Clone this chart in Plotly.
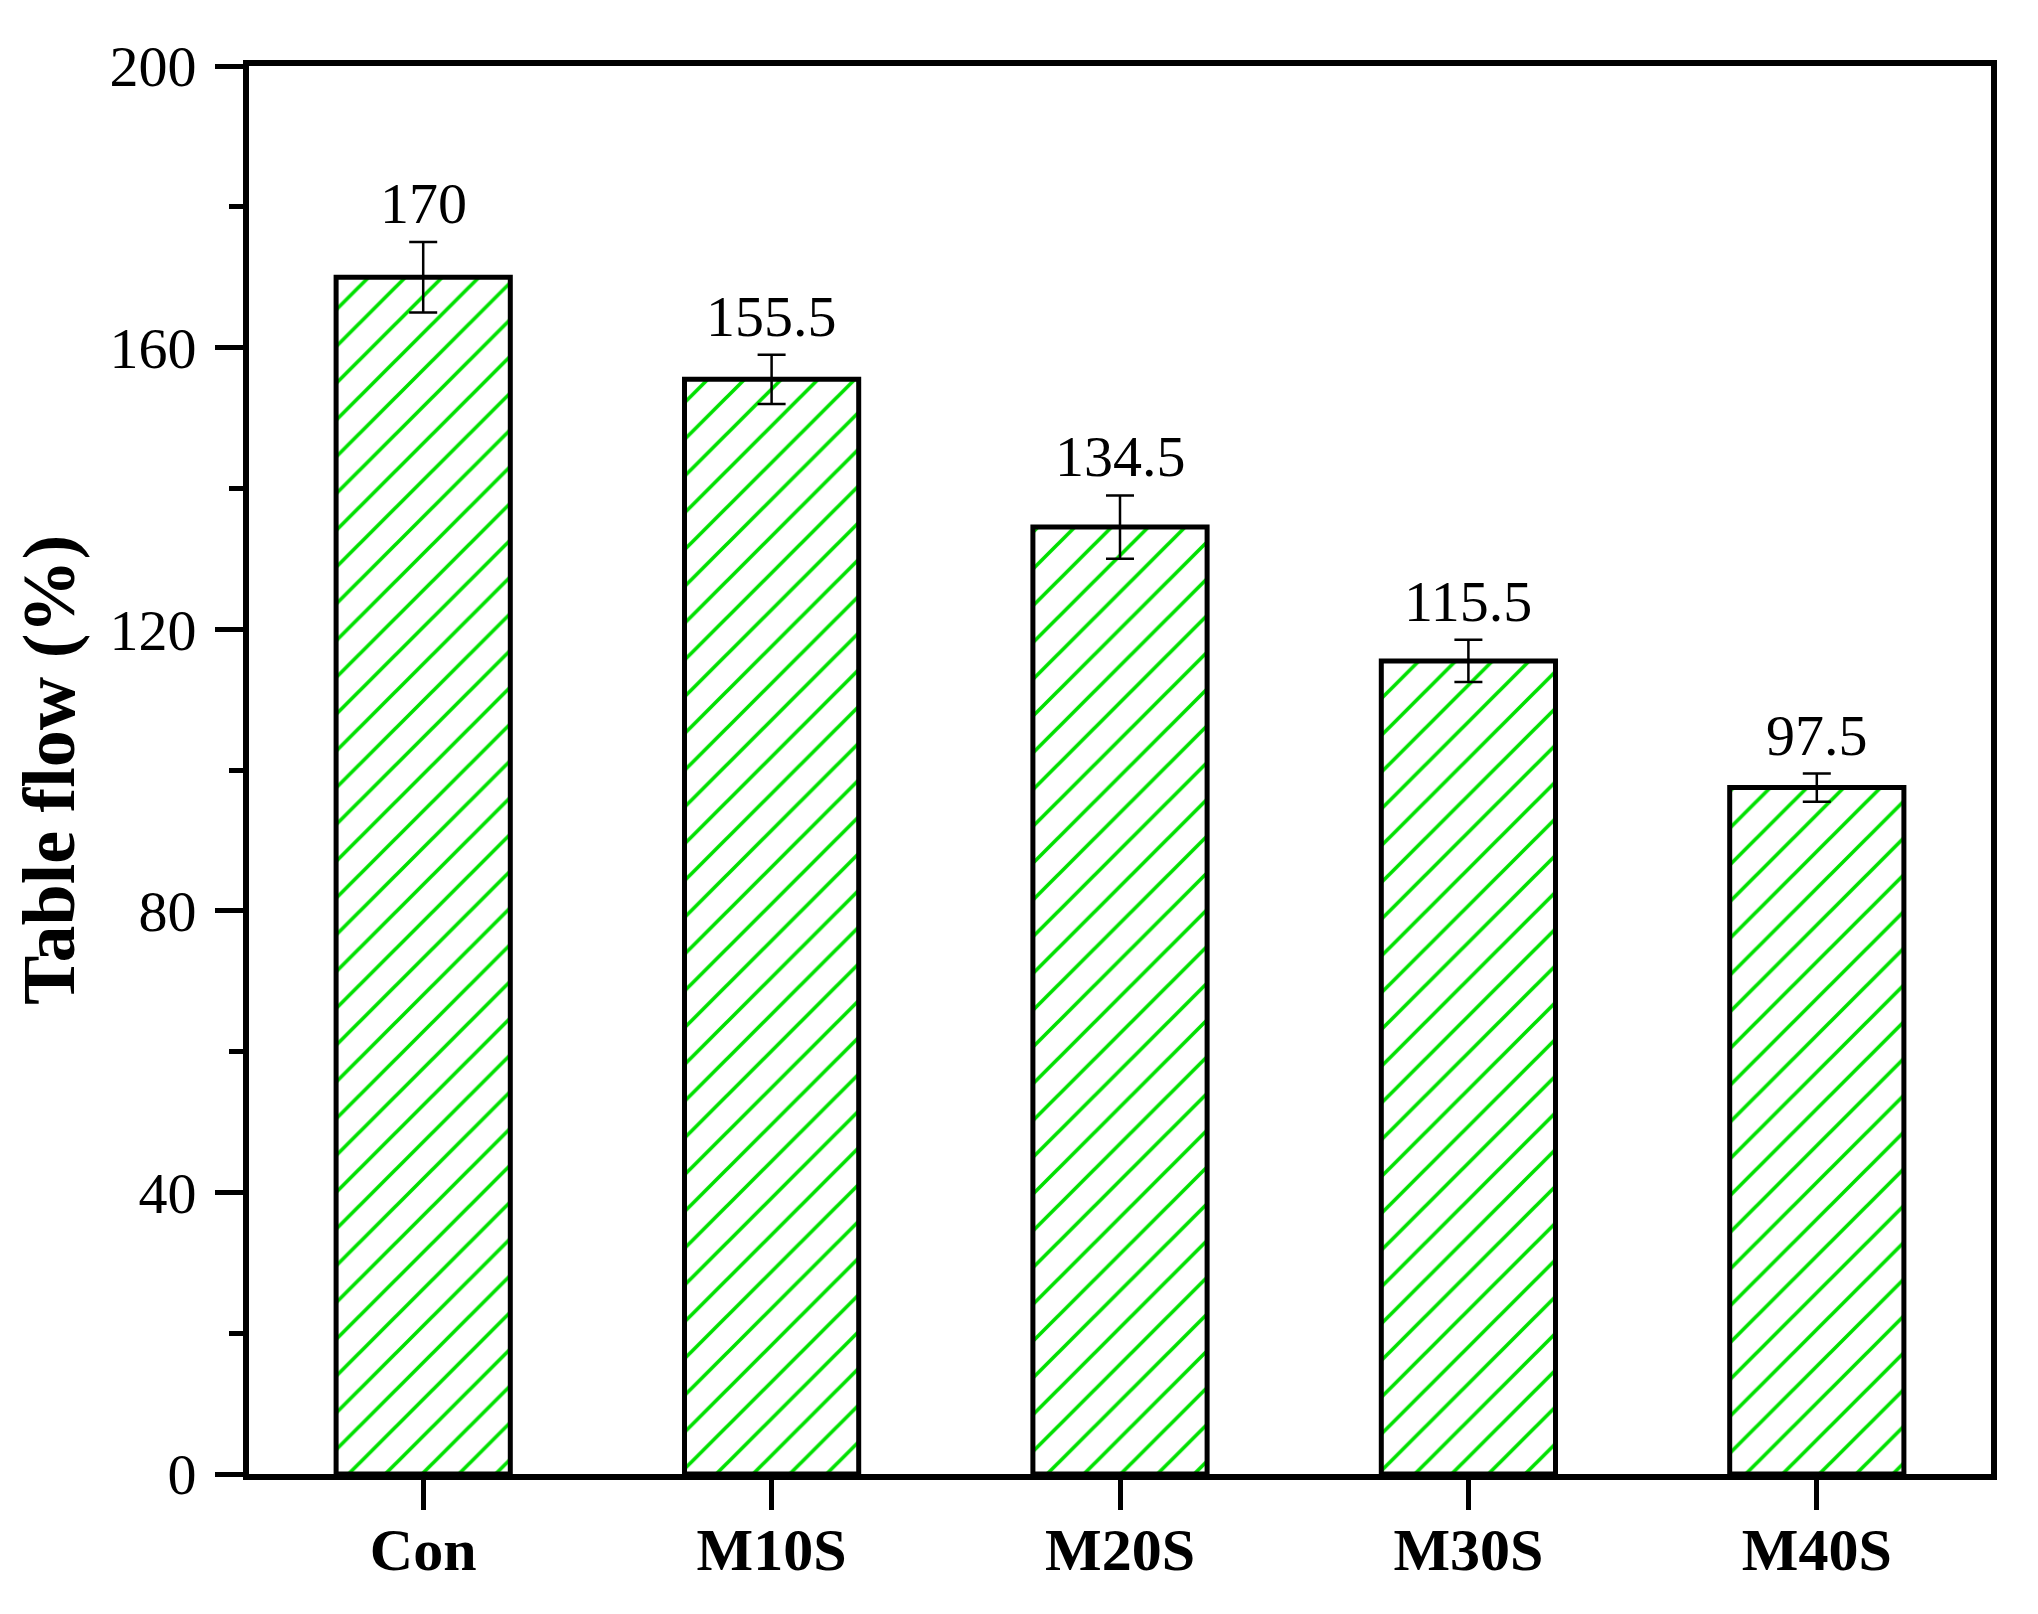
import plotly.graph_objects as go

categories = ["Con", "M10S", "M20S", "M30S", "M40S"]
values = [170, 155.5, 134.5, 115.5, 97.5]
errors = [5, 3.5, 4.5, 3, 2]
value_labels = ["170", "155.5", "134.5", "115.5", "97.5"]
y_ticks = [0, 40, 80, 120, 160, 200]

# the page body has an 8px margin, so the figure is 8px smaller than the window
W, H = 2030, 1606
L, R, T, B = 241, 47, 58, 140

fig = go.Figure()
fig.add_trace(go.Bar(
    x=categories, y=values, width=0.5,
    marker=dict(
        color="white",
        line=dict(color="black", width=5),
        pattern=dict(shape="/", fgcolor="#00E000", fgopacity=1, bgcolor="white", size=26, solidity=0.14),
    ),
    error_y=dict(type="data", array=errors, visible=True, color="black", thickness=2.5, width=14),
    showlegend=False,
))

for c, v, e, t in zip(categories, values, errors, value_labels):
    fig.add_annotation(x=c, y=v + e, text=t, showarrow=False, xref="x", yref="y",
                       yanchor="bottom", yshift=4,
                       font=dict(family="Liberation Serif", size=58, color="black"))

fig.update_layout(
    width=W, height=H,
    margin=dict(l=L, r=R, t=T, b=B, autoexpand=False),
    paper_bgcolor="white", plot_bgcolor="white",
    font=dict(family="Liberation Serif", color="black"),
)
fig.update_xaxes(
    range=[-0.5, 4.5], showline=True, linecolor="black", linewidth=6, mirror=True,
    ticks="outside", ticklen=30, tickwidth=5, tickcolor="black",
    tickfont=dict(family="Liberation Serif", size=60, color="black", weight="bold"),
    ticklabelstandoff=-12, showgrid=False, zeroline=False,
)
fig.update_yaxes(
    range=[0, 200], tickvals=y_ticks, showline=True, linecolor="black", linewidth=6, mirror=True,
    ticks="outside", ticklen=28, tickwidth=5, tickcolor="black",
    tickfont=dict(family="Liberation Serif", size=58, color="black"),
    ticklabelstandoff=7,
    minor=dict(dtick=20, ticks="outside", ticklen=14, tickwidth=5, tickcolor="black", showgrid=False),
    showgrid=False, zeroline=False,
    title=dict(text="Table flow (%)", font=dict(family="Liberation Serif", size=74, color="black", weight="bold"), standoff=13),
)

fig.write_html("out.html")
